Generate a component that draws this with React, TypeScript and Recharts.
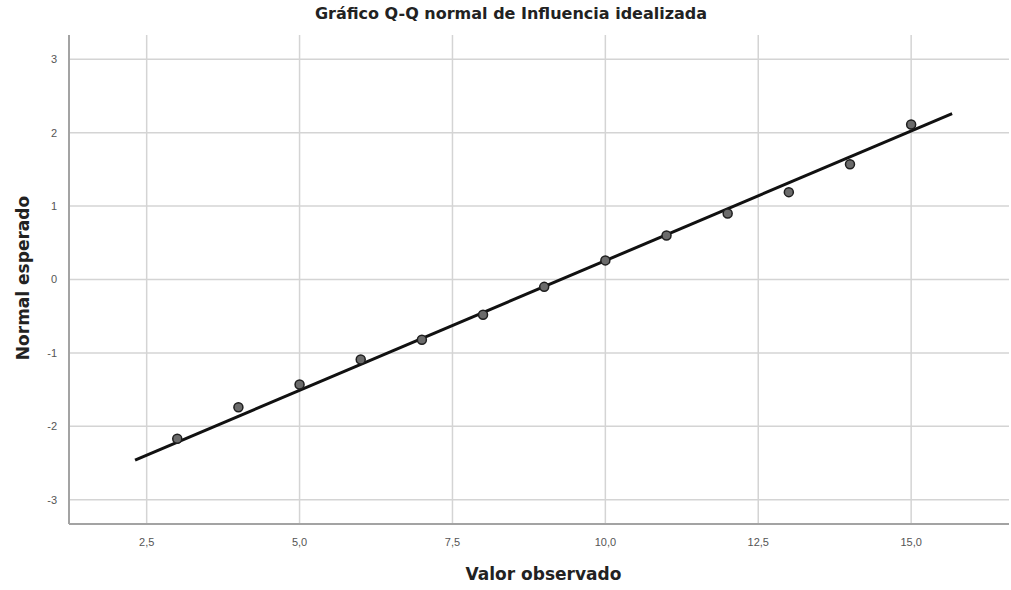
import React from 'react';
import { ComposedChart, Scatter, XAxis, YAxis, CartesianGrid } from 'recharts';

const observed = [3, 4, 5, 6, 7, 8, 9, 10, 11, 12, 13, 14, 15];
const expected = [-2.17, -1.74, -1.43, -1.09, -0.82, -0.48, -0.1, 0.26, 0.6, 0.9, 1.19, 1.57, 2.11];
const lineX = [2.31, 15.67];
const lineY = [-2.46, 2.26];
const xTicks = [2.5, 5, 7.5, 10, 12.5, 15];
const yTicks = [-3, -2, -1, 0, 1, 2, 3];

const points = observed.map((x, i) => ({ x, y: expected[i] }));
const linePts = lineX.map((x, i) => ({ x, y: lineY[i] }));

const fmtX = (v: number) => v.toFixed(1).replace('.', ',');

const Dot = (props: any) => {
  const { cx, cy } = props;
  return <circle cx={cx} cy={cy} r={4.5} fill="#6b6b6b" stroke="#1e1e1e" strokeWidth={1.5} />;
};

export default function App() {
  const font = '"Liberation Sans", Arial, sans-serif';
  const labelFont = '"DejaVu Sans", Verdana, sans-serif';
  return (
    <div style={{ position: 'absolute', left: 0, top: 0, width: 1011, height: 590, background: '#fff', fontFamily: font }}>
      <ComposedChart
        width={1011}
        height={590}
        margin={{ top: 35, right: 2, bottom: 36, left: 0 }}
      >
        <CartesianGrid stroke="#d4d4d4" strokeWidth={1.5} verticalValues={xTicks} horizontalValues={yTicks} />
        <XAxis
          type="number"
          dataKey="x"
          domain={[1.23, 16.6]}
          ticks={xTicks}
          tickFormatter={fmtX}
          allowDataOverflow
          height={30}
          tickLine={false}
          axisLine={{ stroke: '#a3a3a3', strokeWidth: 2 }}
          tick={{ fill: '#555', fontSize: 11, fontFamily: font }}
          tickMargin={8}
        />
        <YAxis
          type="number"
          dataKey="y"
          domain={[-3.33, 3.33]}
          ticks={yTicks}
          allowDataOverflow
          width={69}
          tickLine={false}
          axisLine={{ stroke: '#a3a3a3', strokeWidth: 2 }}
          tick={{ fill: '#555', fontSize: 11, fontFamily: font }}
          tickMargin={6}
        />
        <Scatter
          data={linePts}
          line={{ stroke: '#111', strokeWidth: 3 }}
          shape={() => <g />}
          isAnimationActive={false}
          legendType="none"
        />
        <Scatter data={points} shape={Dot} isAnimationActive={false} />
      </ComposedChart>
      <div style={{ position: 'absolute', left: 0, width: 1022, top: 13, transform: 'translateY(-50%)', textAlign: 'center', fontSize: 16, fontWeight: 'bold', color: '#222', fontFamily: labelFont, whiteSpace: 'nowrap' }}>
        Gráfico Q-Q normal de Influencia idealizada
      </div>
      <div style={{ position: 'absolute', left: 0, width: 1087, top: 574, transform: 'translateY(-50%)', textAlign: 'center', fontSize: 17, fontWeight: 'bold', color: '#222', fontFamily: labelFont, whiteSpace: 'nowrap' }}>
        Valor observado
      </div>
      <div style={{ position: 'absolute', left: 23, top: 278, transform: 'translate(-50%, -50%) rotate(-90deg)', whiteSpace: 'nowrap', fontSize: 17, fontWeight: 'bold', color: '#222', fontFamily: labelFont }}>
        Normal esperado
      </div>
    </div>
  );
}
